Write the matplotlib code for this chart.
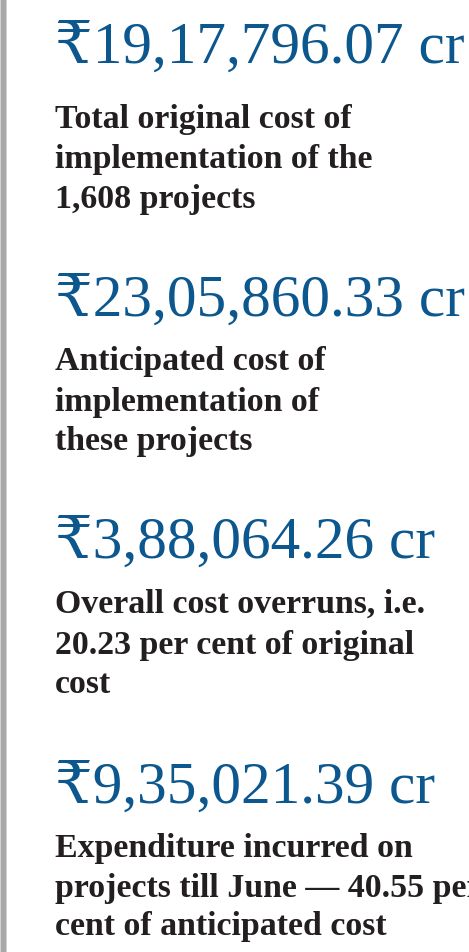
import matplotlib
matplotlib.use("Agg")
import matplotlib.pyplot as plt
from matplotlib.patches import Rectangle

# ---- data ----
amounts = ["₹19,17,796.07 cr", "₹23,05,860.33 cr", "₹3,88,064.26 cr", "₹9,35,021.39 cr"]
descriptions = [
    ["Total original cost of", "implementation of the", "1,608 projects"],
    ["Anticipated cost of", "implementation of", "these projects"],
    ["Overall cost overruns, i.e.", "20.23 per cent of original", "cost"],
    ["Expenditure incurred on", "projects till June \u2014 40.55 per", "cent of anticipated cost"],
]

# ---- layout (pixels from top) ----
W, H = 469, 953
amount_baselines = [63, 316, 558, 803]
desc_baselines = [[128, 168, 208], [370, 411, 450], [613, 654, 693], [857, 897, 935]]
x_left = 55
blue = "#0b578e"
dark = "#231f20"
num_family = ["Liberation Serif", "DejaVu Serif"]
desc_family = ["Liberation Serif", "DejaVu Serif"]

fig = plt.figure(figsize=(W / 100, H / 100), dpi=100)
fig.patch.set_facecolor("white")

# left grey border
fig.add_artist(Rectangle((0, 0), 7 / W, 1, transform=fig.transFigure,
                         facecolor="#d2d2d2", edgecolor="none"))
fig.add_artist(Rectangle((1 / W, 0), 5 / W, 1, transform=fig.transFigure,
                         facecolor="#a8a8a8", edgecolor="none"))

renderer = fig.canvas.get_renderer()


def fit_size(text, family, weight, target_px):
    t = fig.text(0, 0, text, fontsize=20, family=family, weight=weight)
    w = t.get_window_extent(renderer).width
    t.remove()
    return 20 * target_px / w


num_size = fit_size(amounts[0], num_family, "normal", 465 - x_left)
desc_size = fit_size(descriptions[0][0], desc_family, "bold", 352 - x_left)

for amt, yb, lines, dys in zip(amounts, amount_baselines, descriptions, desc_baselines):
    fig.text(x_left / W, 1 - yb / H, amt, fontsize=num_size, family=num_family,
             color=blue, va="baseline", ha="left")
    for line, y in zip(lines, dys):
        fig.text(x_left / W, 1 - y / H, line, fontsize=desc_size, family=desc_family,
                 weight="bold", color=dark, va="baseline", ha="left")

fig.savefig("out.png", dpi=100, facecolor="white")
